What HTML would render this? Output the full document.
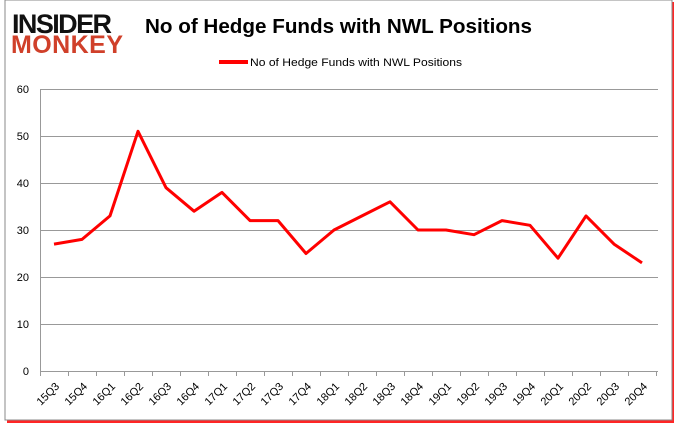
<!DOCTYPE html>
<html><head><style>
body{margin:0;background:#fff;width:678px;height:431px;overflow:hidden;font-family:"Liberation Sans",sans-serif}
</style></head><body>
<svg width="678" height="431" xmlns="http://www.w3.org/2000/svg" style="position:absolute;left:0;top:0">
<rect x="7" y="2" width="667" height="421" fill="#f00" opacity="0.85"/>
<rect x="5" y="0" width="667" height="420" fill="#fff" stroke="#888" stroke-width="1"/>
<text x="12" y="33" font-size="27" font-weight="bold" fill="#111" font-family="Liberation Sans" textLength="100">INSIDER</text>
<text x="11" y="53" font-size="25" font-weight="bold" fill="#d0402a" font-family="Liberation Sans" textLength="112">MONKEY</text>
<text x="145" y="33" font-size="20" font-weight="bold" fill="#000" textLength="387" lengthAdjust="spacingAndGlyphs">No of Hedge Funds with NWL Positions</text>
<line x1="219" y1="62" x2="248" y2="62" stroke="#f00" stroke-width="4"/>
<text x="250" y="66" font-size="11" fill="#000" textLength="212" lengthAdjust="spacingAndGlyphs">No of Hedge Funds with NWL Positions</text>
<g stroke="#999" stroke-width="1">
<line x1="40" y1="89.5" x2="658" y2="89.5"/>
<line x1="40" y1="136.5" x2="658" y2="136.5"/>
<line x1="40" y1="183.5" x2="658" y2="183.5"/>
<line x1="40" y1="230.5" x2="658" y2="230.5"/>
<line x1="40" y1="277.5" x2="658" y2="277.5"/>
<line x1="40" y1="324.5" x2="658" y2="324.5"/>
<line x1="40" y1="371.5" x2="658" y2="371.5"/>
<line x1="40.5" y1="89" x2="40.5" y2="376"/>
</g>
<g font-size="11" fill="#000" text-anchor="end">
<text x="29" y="93">60</text><text x="29" y="140">50</text><text x="29" y="187">40</text>
<text x="29" y="234">30</text><text x="29" y="281">20</text><text x="29" y="328">10</text><text x="29" y="375">0</text>
</g>
<g id="ticks" stroke="#999"></g>
<g id="labels" font-size="11" fill="#000"></g>
<polyline id="ln" fill="none" stroke="#f00" stroke-width="3" stroke-linejoin="round"/>
</svg>
<script>
var v=[27,28,33,51,39,34,38,32,32,25,30,33,36,30,30,29,32,31,24,33,27,23];
var l=["15Q3","15Q4","16Q1","16Q2","16Q3","16Q4","17Q1","17Q2","17Q3","17Q4","18Q1","18Q2","18Q3","18Q4","19Q1","19Q2","19Q3","19Q4","20Q1","20Q2","20Q3","20Q4"];
var ns="http://www.w3.org/2000/svg",pts=[],t=document.getElementById("ticks"),g=document.getElementById("labels");
for(var i=0;i<=22;i++){var k=document.createElementNS(ns,"line");var x=40.5+28*i;k.setAttribute("x1",x);k.setAttribute("x2",x);k.setAttribute("y1",371);k.setAttribute("y2",376);t.appendChild(k);}
for(var i=0;i<22;i++){var x=54+28*i;pts.push(x+","+(371-v[i]*4.7));
var tx=document.createElementNS(ns,"text");tx.setAttribute("x",x+6);tx.setAttribute("y",387);tx.setAttribute("text-anchor","end");tx.setAttribute("transform","rotate(-45 "+(x+6)+" 387)");tx.textContent=l[i];g.appendChild(tx);}
document.getElementById("ln").setAttribute("points",pts.join(" "));
</script>
</body></html>
